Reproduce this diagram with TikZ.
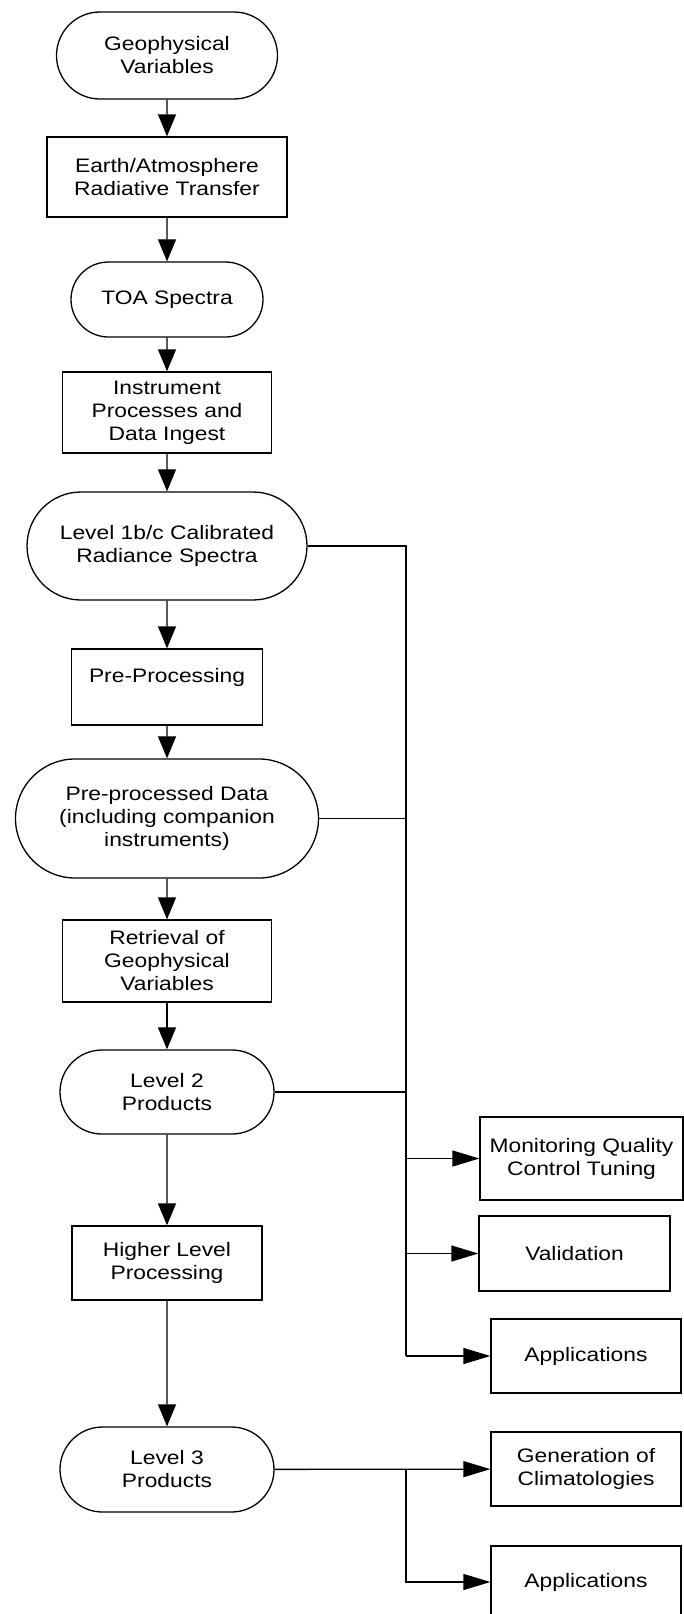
\documentclass[tikz,border=0pt]{standalone}
\usepackage{fontspec}
\setmainfont{Liberation Sans}[FakeStretch=1.17]
\usetikzlibrary{arrows.meta, shapes.misc}
\tikzset{
  product/.style = {draw, rounded rectangle, align=center, line width=1.3pt,
                    font=\fontsize{19.5}{23}\selectfont, inner sep=2pt},
  process/.style = {draw, rectangle, align=center, line width=1.3pt,
                    font=\fontsize{19.5}{23}\selectfont, inner sep=2pt},
  flow/.style    = {-, line width=1.3pt},
  feed/.style    = {-{Triangle[length=22pt, width=18pt]}, line width=1.3pt},
  branch/.style  = {-{Triangle[length=27pt, width=16pt]}, line width=1.3pt},
}

\begin{document}
\begin{tikzpicture}[x=1pt, y=-1pt]
  \useasboundingbox (0,0) rectangle (684,1614);
  \node[product, minimum width=225pt, minimum height=87pt]  (geo)    at (167,55.5)   {Geophysical\\Variables};
  \node[process, minimum width=240pt, minimum height=80pt]  (rt)     at (167,177)    {Earth/Atmosphere\\Radiative Transfer};
  \node[product, minimum width=196pt, minimum height=75pt]  (toa)    at (167,299.5)  {TOA Spectra};
  \node[process, minimum width=209pt, minimum height=81pt]  (inst)   at (167,412.5)  {Instrument\\Processes and\\Data Ingest};
  \node[product, minimum width=284pt, minimum height=108pt] (lone)   at (167,546)    {Level 1b/c Calibrated\\Radiance Spectra};
  \node[process, minimum width=191pt, minimum height=76pt]  (prep)   at (167,687)    {Pre-Processing\\~};
  \node[product, minimum width=307pt, minimum height=119pt] (ppd)    at (167,818.5)  {Pre-processed Data\\(including companion\\instruments)};
  \node[process, minimum width=209pt, minimum height=82pt]  (ret)    at (167,961)    {Retrieval of\\Geophysical\\Variables};
  \node[product, minimum width=218pt, minimum height=84pt]  (ltwo)   at (167,1092)   {Level 2\\Products};
  \node[process, minimum width=190pt, minimum height=74pt]  (hlp)    at (167,1263)   {Higher Level\\Processing};
  \node[product, minimum width=218pt, minimum height=85pt]  (lthree) at (167,1469.5) {Level 3\\Products};

  \node[process, minimum width=203pt, minimum height=83pt]  (mon)    at (581.5,1158.5) {Monitoring Quality\\Control Tuning};
  \node[process, minimum width=191pt, minimum height=75pt]  (val)    at (574.5,1253.5) {Validation};
  \node[process, minimum width=190pt, minimum height=74pt]  (appa)   at (586,1356)   {Applications};
  \node[process, minimum width=190pt, minimum height=74pt]  (gen)    at (586,1469)   {Generation of\\Climatologies};
  \node[process, minimum width=190pt, minimum height=72pt]  (appb)   at (586,1582)   {Applications};

  \coordinate (bus) at (406,0);

  \draw[feed] (geo) -- (rt);
  \draw[feed] (rt) -- (toa);
  \draw[feed] (toa) -- (inst);
  \draw[feed] (inst) -- (lone);
  \draw[feed] (lone) -- (prep);
  \draw[feed] (prep) -- (ppd);
  \draw[feed] (ppd) -- (ret);
  \draw[feed] (ret) -- (ltwo);
  \draw[feed] (ltwo) -- (hlp);
  \draw[feed] (hlp) -- (lthree);

  \draw[flow] (lone.east) -- (lone.east -| bus) -- (appa.west -| bus);
  \draw[flow] (ppd.east) -- (ppd.east -| bus);
  \draw[flow] (ltwo.east) -- (ltwo.east -| bus);
  \draw[branch] (mon.west -| bus) -- (mon.west);
  \draw[branch] (val.west -| bus) -- (val.west);
  \draw[branch] (appa.west -| bus) -- (appa.west);

  \draw[branch] (lthree) -- (gen);
  \draw[branch] (lthree.east -| bus) |- (appb.west);
\end{tikzpicture}
\end{document}
